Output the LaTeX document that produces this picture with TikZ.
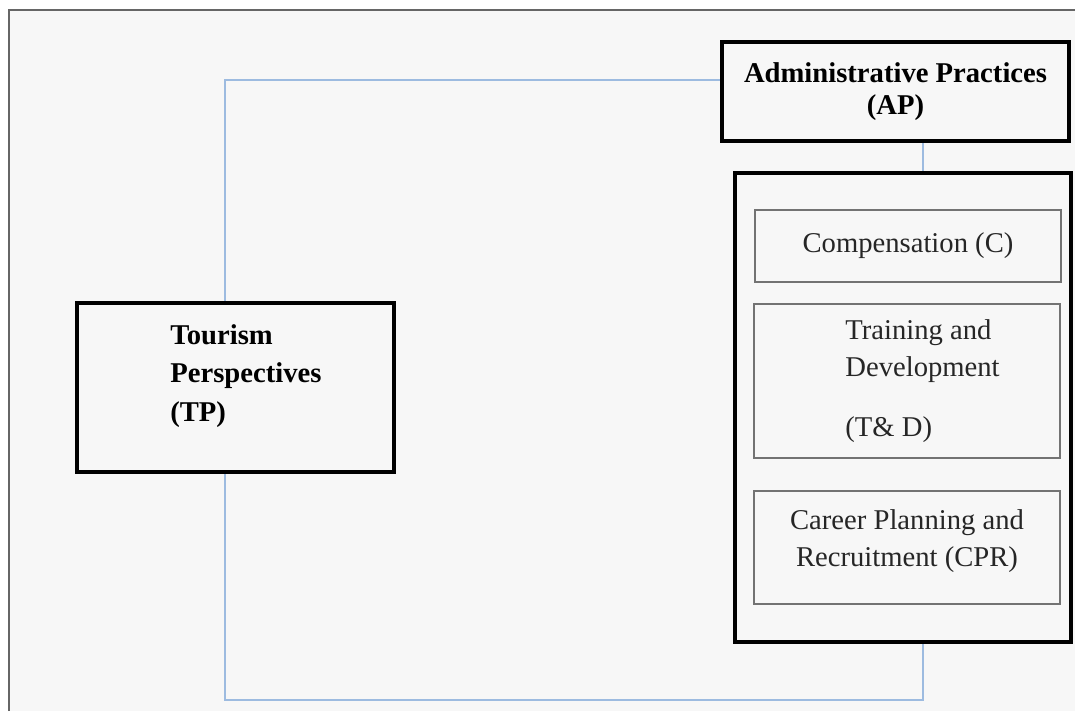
\documentclass[tikz,border=0pt]{standalone}
\usepackage{fontspec}
\setmainfont{Liberation Serif}
\definecolor{linkblue}{HTML}{9DBBE0}
\definecolor{pagegray}{HTML}{F7F7F7}
\tikzset{
  mainbox/.style={draw=black,line width=2.4pt,inner sep=0pt,font=\fontsize{16.3}{18.5}\selectfont\bfseries},
  subbox/.style={draw=black!55,line width=0.9pt,inner sep=0pt,text=black!85,font=\fontsize{16.3}{21.5}\selectfont},
  link/.style={draw=linkblue,line width=0.7pt}
}
\begin{document}
\begin{tikzpicture}[x=0.02cm,y=-0.02cm]
  \useasboundingbox (0,0) rectangle (1075,711);
  \fill[pagegray] (9,10) rectangle (1075,711);
  \draw[black!60,line width=0.8pt] (9,711) -- (9,10) -- (1075,10);

  % main boxes
  \node[mainbox,minimum width=6.94cm,minimum height=1.98cm,align=center] (ap) at (895.5,91.5)
    {Administrative Practices\\(AP)};
  \node[mainbox,minimum width=6.34cm,minimum height=3.38cm] (tp) at (235.5,387.5) {};
  \node[align=left,anchor=north west,inner sep=0pt,font=\fontsize{16.3}{22}\selectfont\bfseries] (tptext) at (170,324)
    {Tourism\\Perspectives\\(TP)};
  \node[mainbox,minimum width=6.72cm,minimum height=9.38cm] (adm) at (903,407.5) {};

  % practices inside AP
  \node[subbox,minimum width=6.12cm,minimum height=1.44cm] (comp) at (908,246) {\raisebox{3pt}{Compensation (C)}};
  \node[subbox,minimum width=6.12cm,minimum height=2.26cm] (cpr) at (907,547.5) {};
  \node[subbox,minimum width=6.12cm,minimum height=3.08cm] (td) at (907,381) {};
  \node[align=left,anchor=north west,inner sep=0pt,font=\fontsize{16.3}{21}\selectfont,text=black!85] (tdtext) at (845,319)
    {Training and\\Development\\[0.46cm](T\& D)};
  \node[align=center,inner sep=0pt,font=\fontsize{16.3}{21.5}\selectfont,text=black!85] (cprtext) at (907,541)
    {Career Planning and\\Recruitment (CPR)};

  % connectors
  \coordinate (tpx) at (225,80);
  \coordinate (apx) at (923,0);
  \coordinate (low) at (0,700);
  \draw[link] (tp.north -| tpx) -- (tpx) -- (tpx -| ap.west);
  \draw[link] (ap.south -| apx) -- (adm.north -| apx);
  \draw[link] (adm.south -| apx) -- (low -| apx) -- (low -| tpx) -- (tp.south -| tpx);
\end{tikzpicture}
\end{document}
